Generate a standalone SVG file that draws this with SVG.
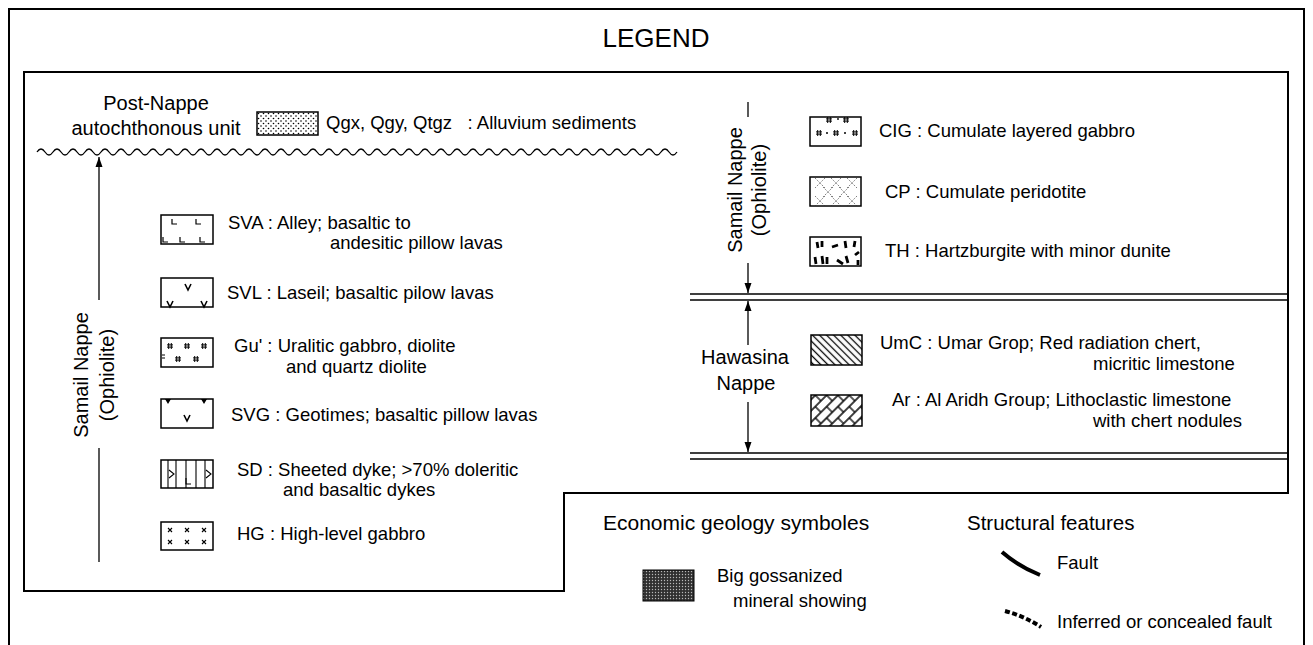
<svg xmlns="http://www.w3.org/2000/svg" xmlns:xlink="http://www.w3.org/1999/xlink" width="1313" height="645" viewBox="0 0 1313 645">
<style>
.t{font-family:"Liberation Sans",Arial,Helvetica,sans-serif;fill:#000}
.d{font-size:18.5px}
.g{font-size:20px}
.h{font-size:20.5px}
.sw{fill:#fff;stroke:#000;stroke-width:1.5}
.mk{fill:none;stroke:#000;stroke-width:1.1}
.ln{fill:none;stroke:#000;stroke-width:1.3}
.fr{fill:none;stroke:#000;stroke-width:2}
</style>
<defs>
<marker id="arr" viewBox="0 0 10 8" refX="10" refY="4" markerWidth="10" markerHeight="8" orient="auto" markerUnits="userSpaceOnUse"><path d="M0,0.5 L10,4 L0,7.5 z" fill="#000"/></marker>
<pattern id="pAll" width="5" height="5" patternUnits="userSpaceOnUse"><rect width="5" height="5" fill="#fff"/><circle cx="1" cy="1" r="0.8" fill="#000"/><circle cx="3.5" cy="3.5" r="0.8" fill="#000"/></pattern>
<pattern id="pGos" width="3" height="3" patternUnits="userSpaceOnUse"><rect width="3" height="3" fill="#303030"/><circle cx="1.5" cy="1.5" r="0.7" fill="#b8b8b8"/></pattern>
<pattern id="pUmc" width="5" height="5" patternUnits="userSpaceOnUse" patternTransform="rotate(-45)"><rect width="5" height="5" fill="#fff"/><path d="M2.5,0 V5" stroke="#000" stroke-width="1.3"/></pattern>
<pattern id="pAr" width="16" height="16" patternUnits="userSpaceOnUse" patternTransform="rotate(-45)"><rect width="16" height="16" fill="#fff"/><path d="M0,0 H16 M0,8 H16 M0,16 H16 M1,0 V8 M9,8 V16" stroke="#000" stroke-width="1.3" fill="none"/></pattern>
<g id="hash"><path d="M-1.3,-3 V3 M1.3,-3 V3 M-3,-1.1 H3 M-3,1.1 H3" stroke="#000" stroke-width="1" fill="none"/></g>
<g id="xm"><path d="M-2,-2 L2,2 M2,-2 L-2,2" stroke="#000" stroke-width="1.1"/></g>
<g id="vm"><path d="M-3,-3 L0,3 L3,-3" fill="none" stroke="#000" stroke-width="1.6"/></g>
<g id="lm"><path d="M0,-5 V0 H5" fill="none" stroke="#000" stroke-width="1.2"/></g>
<g id="dx"><path d="M-5,-5 L5,5 M5,-5 L-5,5" fill="none" stroke="#333" stroke-width="0.9" stroke-dasharray="1,1.6"/></g>
</defs>

<rect width="1313" height="645" fill="#fff"/>

<g id="frame">
<path class="fr" d="M9,645 V9 H1304 V645"/>
<path class="fr" d="M24,591 V72 H1288 V493 H564 V591 Z"/>
</g>

<g id="title"><text class="t" x="656" y="47" font-size="26" text-anchor="middle">LEGEND</text></g>

<g id="connectors">
<path class="ln" d="M37,152 q4,-6 8,0 t8,0 t8,0 t8,0 t8,0 t8,0 t8,0 t8,0 t8,0 t8,0 t8,0 t8,0 t8,0 t8,0 t8,0 t8,0 t8,0 t8,0 t8,0 t8,0 t8,0 t8,0 t8,0 t8,0 t8,0 t8,0 t8,0 t8,0 t8,0 t8,0 t8,0 t8,0 t8,0 t8,0 t8,0 t8,0 t8,0 t8,0 t8,0 t8,0 t8,0 t8,0 t8,0 t8,0 t8,0 t8,0 t8,0 t8,0 t8,0 t8,0 t8,0 t8,0 t8,0 t8,0 t8,0 t8,0 t8,0 t8,0 t8,0 t8,0 t8,0 t8,0 t8,0 t8,0 t8,0 t8,0 t8,0 t8,0 t8,0 t8,0 t8,0 t8,0 t8,0 t8,0 t8,0 t8,0 t8,0 t8,0 t8,0 t8,0"/>
<line class="ln" x1="99" y1="300" x2="99" y2="157" marker-end="url(#arr)"/>
<line class="ln" x1="99" y1="448" x2="99" y2="562"/>
<line class="ln" x1="748" y1="102" x2="748" y2="117"/>
<line class="ln" x1="748" y1="263" x2="748" y2="293" marker-end="url(#arr)"/>
<line class="ln" x1="748" y1="345" x2="748" y2="301" marker-end="url(#arr)"/>
<line class="ln" x1="748" y1="402" x2="748" y2="452" marker-end="url(#arr)"/>
<path class="ln" d="M690,294 H1288 M690,300 H1288 M690,453 H1288 M690,459 H1288" stroke-width="1.6"/>
</g>

<g id="post-nappe">
<text class="t g" x="156" y="110" text-anchor="middle">Post-Nappe</text>
<text class="t g" x="156" y="135" text-anchor="middle">autochthonous unit</text>
</g>
<g id="qgx">
<rect x="257" y="112" width="61" height="23" fill="url(#pAll)" stroke="#000" stroke-width="1.5"/>
<text class="t d" x="326" y="129">Qgx, Qgy, Qtgz&#160;&#160; : Alluvium sediments</text>
</g>

<g id="samail-left"><g transform="translate(88,375) rotate(-90)"><text class="t g" x="0" y="0" text-anchor="middle">Samail Nappe</text><text class="t g" x="0" y="26" text-anchor="middle">(Ophiolite)</text></g></g>

<g id="sva">
<rect class="sw" x="161" y="215" width="52" height="29"/>
<use xlink:href="#lm" x="172" y="224"/><use xlink:href="#lm" x="196" y="224"/>
<use xlink:href="#lm" x="163" y="242"/><use xlink:href="#lm" x="180" y="242"/><use xlink:href="#lm" x="200" y="242"/>
<text class="t d" x="228" y="229">SVA : Alley; basaltic to</text>
<text class="t d" x="330" y="249">andesitic pillow lavas</text>
</g>
<g id="svl">
<rect class="sw" x="161" y="278" width="52" height="29"/>
<use xlink:href="#vm" x="188" y="287"/><use xlink:href="#vm" x="170" y="304"/><use xlink:href="#vm" x="204" y="304"/>
<text class="t d" x="227" y="299">SVL : Laseil; basaltic pilow lavas</text>
</g>
<g id="gu">
<rect class="sw" x="161" y="338" width="52" height="29"/>
<use xlink:href="#hash" x="170" y="346"/><use xlink:href="#hash" x="187" y="346"/><use xlink:href="#hash" x="204" y="346"/>
<use xlink:href="#hash" x="178" y="359"/><use xlink:href="#hash" x="196" y="359"/>
<path d="M162,355 H165 M162,358 H165" stroke="#000" stroke-width="1.2"/>
<text class="t d" x="234" y="352">Gu' : Uralitic gabbro, diolite</text>
<text class="t d" x="286" y="373">and quartz diolite</text>
</g>
<g id="svg-unit">
<rect class="sw" x="161" y="399" width="52" height="29"/>
<path d="M165,399 h6 l-3,5 z M201,399 h6 l-3,5 z" fill="#000"/>
<use xlink:href="#vm" x="187" y="418"/>
<text class="t d" x="231" y="421">SVG : Geotimes; basaltic pillow lavas</text>
</g>
<g id="sd">
<rect class="sw" x="161" y="460" width="52" height="28"/>
<path class="mk" d="M168,460 V488 M176,460 V488 M186,460 V488 M196,460 V488 M205,460 V488"/>
<path class="mk" d="M169,470 L174,474 L169,478 M206,470 L211,474 L206,478 M186,478 V484 H191" stroke-width="1.5"/>
<text class="t d" x="237" y="476">SD : Sheeted dyke; &gt;70% doleritic</text>
<text class="t d" x="283" y="496">and basaltic dykes</text>
</g>
<g id="hg">
<rect class="sw" x="161" y="522" width="52" height="28"/>
<use xlink:href="#xm" x="170" y="530"/><use xlink:href="#xm" x="187" y="530"/><use xlink:href="#xm" x="204" y="530"/>
<use xlink:href="#xm" x="170" y="542"/><use xlink:href="#xm" x="187" y="542"/><use xlink:href="#xm" x="204" y="542"/>
<text class="t d" x="237" y="540">HG : High-level gabbro</text>
</g>

<g id="samail-right"><g transform="translate(742,190) rotate(-90)"><text class="t g" x="0" y="0" text-anchor="middle">Samail Nappe</text><text class="t g" x="0" y="24" text-anchor="middle">(Ophiolite)</text></g></g>

<g id="cig">
<rect class="sw" x="810" y="117" width="51" height="29"/>
<use xlink:href="#hash" x="829" y="120"/><use xlink:href="#hash" x="846" y="120"/>
<use xlink:href="#hash" x="819" y="133"/><use xlink:href="#hash" x="836" y="133"/><use xlink:href="#hash" x="855" y="133"/>
<circle cx="827" cy="133" r="1"/><circle cx="845" cy="133" r="1"/><circle cx="838" cy="119" r="0.9"/>
<text class="t d" x="879" y="137">CIG : Cumulate layered gabbro</text>
</g>
<g id="cp">
<rect class="sw" x="810" y="177" width="51" height="29"/>
<use xlink:href="#dx" x="820" y="183"/><use xlink:href="#dx" x="836" y="183"/><use xlink:href="#dx" x="852" y="183"/>
<use xlink:href="#dx" x="828" y="192"/><use xlink:href="#dx" x="844" y="192"/>
<use xlink:href="#dx" x="820" y="201"/><use xlink:href="#dx" x="836" y="201"/><use xlink:href="#dx" x="852" y="201"/>
<text class="t d" x="885" y="198">CP : Cumulate peridotite</text>
</g>
<g id="th">
<rect class="sw" x="810" y="237" width="51" height="29"/>
<path d="M817,242 l1,6 M822,241 l0,6 M832,247 l6,-2 M845,241 l1,7 M855,241 l-1,6 M815,257 l1,7 M822,256 l1,8 M827,257 l0,7 M837,260 l6,4 M846,256 l2,7 M855,255 l4,-3 M858,260 l0,5" stroke="#000" stroke-width="2.8" fill="none"/>
<text class="t d" x="885" y="257">TH : Hartzburgite with minor dunite</text>
</g>

<g id="hawasina">
<text class="t g" x="745" y="364" text-anchor="middle">Hawasina</text>
<text class="t g" x="746" y="390" text-anchor="middle">Nappe</text>
</g>
<g id="umc">
<rect x="811" y="335" width="51" height="30" fill="url(#pUmc)" stroke="#000" stroke-width="1.5"/>
<text class="t d" x="880" y="349">UmC : Umar Grop; Red radiation chert,</text>
<text class="t d" x="1093" y="370">micritic limestone</text>
</g>
<g id="ar">
<rect x="811" y="395" width="51" height="31" fill="url(#pAr)" stroke="#000" stroke-width="1.5"/>
<text class="t d" x="892" y="406">Ar : Al Aridh Group; Lithoclastic limestone</text>
<text class="t d" x="1093" y="427">with chert nodules</text>
</g>

<g id="economic">
<text class="t" font-size="21" x="603" y="530">Economic geology symboles</text>
<rect x="643" y="570" width="51" height="31" fill="url(#pGos)" stroke="#000" stroke-width="1"/>
<text class="t d" x="717" y="582">Big gossanized</text>
<text class="t d" x="733" y="607">mineral showing</text>
</g>

<g id="structural">
<text class="t h" x="967" y="530">Structural features</text>
<path d="M1002,552 Q1018,566 1040,575" fill="none" stroke="#000" stroke-width="4"/>
<text class="t d" x="1057" y="569">Fault</text>
<path d="M1005,611 Q1024,616 1041,627" fill="none" stroke="#000" stroke-width="4" stroke-dasharray="5,2.5"/>
<text class="t d" x="1057" y="628">Inferred or concealed fault</text>
</g>
</svg>
